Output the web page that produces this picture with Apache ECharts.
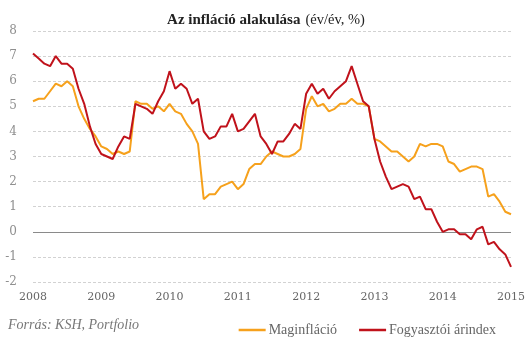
<!DOCTYPE html>
<html>
<head>
<meta charset="utf-8">
<script src="https://cdn.jsdelivr.net/npm/echarts@6/dist/echarts.min.js"></script>
<style>
  html, body { margin: 0; padding: 0; background: #fff; }
  #chart { width: 532px; height: 343px; }
</style>
</head>
<body>
<div id="chart"></div>
<script>
// Years shown on the time axis; data is monthly from Jan 2008 to Jan 2015
var years = [2008, 2009, 2010, 2011, 2012, 2013, 2014, 2015];

// Core inflation (y/y, %)
var maginflacio = [
  5.2, 5.3, 5.3, 5.6, 5.9, 5.8, 6.0, 5.8, 5.0, 4.5, 4.1, 3.8,
  3.4, 3.3, 3.1, 3.2, 3.1, 3.2, 5.2, 5.1, 5.1, 4.9, 5.0, 4.8,
  5.1, 4.8, 4.7, 4.3, 4.0, 3.5, 1.3, 1.5, 1.5, 1.8, 1.9, 2.0,
  1.7, 1.9, 2.5, 2.7, 2.7, 3.0, 3.2, 3.1, 3.0, 3.0, 3.1, 3.3,
  4.9, 5.4, 5.0, 5.1, 4.8, 4.9, 5.1, 5.1, 5.3, 5.1, 5.1, 5.0,
  3.7, 3.6, 3.4, 3.2, 3.2, 3.0, 2.8, 3.0, 3.5, 3.4, 3.5, 3.5,
  3.4, 2.8, 2.7, 2.4, 2.5, 2.6, 2.6, 2.5, 1.4, 1.5, 1.2, 0.8,
  0.7
];

// Consumer price index (y/y, %)
var fogyasztoiArindex = [
  7.1, 6.9, 6.7, 6.6, 7.0, 6.7, 6.7, 6.5, 5.7, 5.1, 4.2, 3.5,
  3.1, 3.0, 2.9, 3.4, 3.8, 3.7, 5.1, 5.0, 4.9, 4.7, 5.2, 5.6,
  6.4, 5.7, 5.9, 5.7, 5.1, 5.3, 4.0, 3.7, 3.8, 4.2, 4.2, 4.7,
  4.0, 4.1, 4.4, 4.7, 3.8, 3.5, 3.1, 3.6, 3.6, 3.9, 4.3, 4.1,
  5.5, 5.9, 5.5, 5.7, 5.3, 5.6, 5.8, 6.0, 6.6, 5.9, 5.2, 5.0,
  3.7, 2.8, 2.2, 1.7, 1.8, 1.9, 1.8, 1.3, 1.4, 0.9, 0.9, 0.4,
  0.0, 0.1, 0.1, -0.1, -0.1, -0.3, 0.1, 0.2, -0.5, -0.4, -0.7, -0.9,
  -1.4
];

var yTicks = { min: -2, max: 8, step: 1 };

// Monthly category labels "YYYY.MM"
var months = [];
for (var i = 0; i < maginflacio.length; i++) {
  var y = years[0] + Math.floor(i / 12);
  var m = (i % 12) + 1;
  months.push(y + '.' + (m < 10 ? '0' + m : m));
}

var ORANGE = '#f6a11c';
var RED = '#c0121b';
var serif = '"DejaVu Serif", serif';
var serif2 = '"Liberation Serif", serif';

var chart = echarts.init(document.getElementById('chart'), null, { renderer: 'canvas' });

chart.setOption({
  animation: false,
  backgroundColor: '#fff',
  title: {
    left: 'center',
    top: 6,
    text: '{b|Az infláció alakulása} {n|(év/év, %)}',
    textStyle: {
      rich: {
        b: { fontFamily: serif2, fontWeight: 'bold', fontSize: 15, color: '#222' },
        n: { fontFamily: serif2, fontWeight: 'normal', fontSize: 14.5, color: '#222' }
      }
    }
  },
  legend: {
    right: 31,
    top: 318,
    icon: 'rect',
    itemWidth: 27,
    itemHeight: 2.5,
    itemGap: 22,
    textStyle: { fontFamily: serif2, fontSize: 14, color: '#666', padding: [0, 0, 0, -2] },
    data: ['Maginfláció', 'Fogyasztói árindex']
  },
  graphic: [{
    type: 'text',
    left: 8,
    top: 318,
    style: {
      text: 'Forrás: KSH, Portfolio',
      fontFamily: serif2,
      fontStyle: 'italic',
      fontSize: 14,
      fill: '#777'
    }
  }],
  grid: { left: 33, right: 21, top: 31, bottom: 61 },
  xAxis: {
    type: 'category',
    data: months,
    boundaryGap: false,
    axisLine: { show: false },
    axisTick: { show: false },
    splitLine: { show: false },
    axisLabel: {
      interval: 11,
      margin: 10,
      fontFamily: serif,
      fontSize: 11,
      color: '#666',
      formatter: function (v) { return v.slice(0, 4); }
    }
  },
  yAxis: {
    type: 'value',
    min: yTicks.min,
    max: yTicks.max,
    interval: yTicks.step,
    axisLine: { show: false },
    axisTick: { show: false },
    axisLabel: { margin: 16, fontFamily: serif, fontSize: 12, color: '#8f8f8f' },
    splitLine: { lineStyle: { color: '#d2d2d2', type: [3, 2], width: 1 } }
  },
  series: [
    {
      name: 'Maginfláció',
      type: 'line',
      data: maginflacio,
      showSymbol: false,
      symbol: 'none',
      lineStyle: { color: ORANGE, width: 2 },
      itemStyle: { color: ORANGE },
      markLine: {
        silent: true,
        symbol: 'none',
        label: { show: false },
        lineStyle: { color: '#8a8a8a', type: 'solid', width: 1.2 },
        data: [{ yAxis: 0 }],
        z: 1
      }
    },
    {
      name: 'Fogyasztói árindex',
      type: 'line',
      data: fogyasztoiArindex,
      showSymbol: false,
      symbol: 'none',
      lineStyle: { color: RED, width: 2 },
      itemStyle: { color: RED }
    }
  ]
});
</script>
</body>
</html>
